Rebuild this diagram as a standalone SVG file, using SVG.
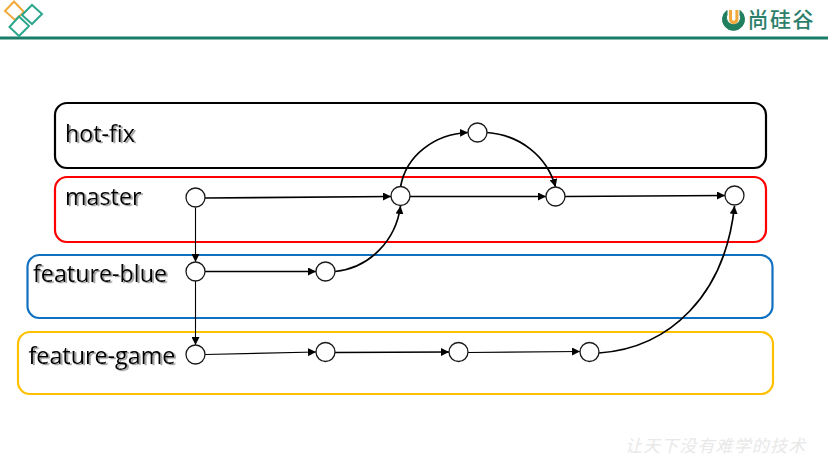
<svg xmlns="http://www.w3.org/2000/svg" width="828" height="456" viewBox="0 0 828 456">
<style>
.box{fill:none;stroke-width:2.2}
.n{fill:#fff;stroke:#1a1a1a;stroke-width:1.3}
.c{fill:none;stroke:#000;stroke-width:1.7}
.thin{stroke-width:1.1}
.t{font-family:"Open Sans","Noto Sans",sans-serif;font-size:23.300px;fill:#000;filter:url(#sh)}
.d{fill:none;stroke-width:2}
</style>
<defs>
<marker id="a" markerUnits="userSpaceOnUse" markerWidth="9" markerHeight="8" refX="8" refY="4" orient="auto"><path d="M0 0L8 4L0 8z" fill="#000"/></marker>
<filter id="sh" x="-5%" y="-10%" width="110%" height="120%"><feDropShadow dx="1.800" dy="1.200" stdDeviation="0.600" flood-color="#777" flood-opacity="0.750"/></filter>
</defs>
<rect width="828" height="456" fill="#fff"/>
<g id="header">
<rect x="0" y="36.500" width="828" height="3" fill="#197d69"/>
<path class="d" stroke="#f0a93a" d="M5 11L14 1.500L24 12L15 20z"/>
<path class="d" stroke="#2ea78f" d="M22 15L32 5L42 14L32 24z"/>
<path class="d" stroke="#2ea78f" d="M9.500 27L19 16.500L29 26L19 36z"/>
<g id="logo">
<path d="M727 10.500a11 11 0 1 0 13 0v4.500a7 7 0 1 1-13 0z" fill="#1f7f5f" stroke="#1f7f5f" stroke-width="1"/>
<path d="M729 10h3v9a1.700 1.700 0 0 0 3.400 0v-9h3v9.500a4.700 4.700 0 0 1-9.400 0z" fill="#f0a93a"/>
<text x="747.500" y="27" font-family="'Noto Sans CJK SC',sans-serif" font-size="21" font-weight="500" fill="#2d7f6c" textLength="66">尚硅谷</text>
</g>
</g>
<text id="watermark" x="625" y="452" font-family="'Noto Sans CJK SC',sans-serif" font-size="17" font-style="italic" fill="#e8e8e8" textLength="180">让天下没有难学的技术</text>
<g id="hot-fix"><rect class="box" x="55" y="103" width="711" height="65" rx="12" stroke="#000"/><text class="t" x="65" y="142">hot-fix</text></g>
<g id="master"><rect class="box" x="55" y="177" width="711" height="65" rx="12" stroke="#f00"/><text class="t" x="65" y="205">master</text></g>
<g id="feature-blue"><rect class="box" x="27.500" y="255" width="745" height="63" rx="12" stroke="#0f70c0"/><text class="t" x="33" y="282">feature-blue</text></g>
<g id="feature-game"><rect class="box" x="18" y="332" width="755" height="62" rx="12" stroke="#ffc000"/><text class="t" x="28.500" y="364">feature-game</text></g>
<g id="connectors">
<path class="c" marker-end="url(#a)" d="M205 198L391 196.500"/>
<path class="c thin" marker-end="url(#a)" d="M195.500 207.500V262"/>
<path class="c" marker-end="url(#a)" d="M205 271.500H316"/>
<path class="c thin" marker-end="url(#a)" d="M195.500 281V345"/>
<path class="c thin" marker-end="url(#a)" d="M205 354.500L316 352"/>
<path class="c" marker-end="url(#a)" d="M335 352.500L449 352"/>
<path class="c thin" marker-end="url(#a)" d="M468 352.500L580 351.500"/>
<path class="c" marker-end="url(#a)" d="M410 196.500L546 196.500"/>
<path class="c" marker-end="url(#a)" d="M565 196.500L725 195.500"/>
<path class="c" marker-end="url(#a)" d="M335 271.500C370 268 396 240 400.500 206"/>
<path class="c" marker-end="url(#a)" d="M400.500 187C406 155 435 134 468 132.500"/>
<path class="c" marker-end="url(#a)" d="M487 132.500C520 135 547 156 555.500 187"/>
<path class="c" marker-end="url(#a)" d="M599 353C670 348 725 295 734.500 206"/>
</g>
<g id="node-m1"><circle class="n" cx="195.500" cy="197.500" r="9.500"/></g>
<g id="node-m2"><circle class="n" cx="400.500" cy="196" r="9.500"/></g>
<g id="node-h1"><circle class="n" cx="477.500" cy="132.500" r="9.500"/></g>
<g id="node-m3"><circle class="n" cx="555.500" cy="196.500" r="9.500"/></g>
<g id="node-m4"><circle class="n" cx="734.500" cy="195.500" r="9.500"/></g>
<g id="node-b1"><circle class="n" cx="195.500" cy="271.500" r="9.500"/></g>
<g id="node-b2"><circle class="n" cx="325.500" cy="271.500" r="9.500"/></g>
<g id="node-g1"><circle class="n" cx="195.500" cy="354.500" r="9.500"/></g>
<g id="node-g2"><circle class="n" cx="325.500" cy="352" r="9.500"/></g>
<g id="node-g3"><circle class="n" cx="458.500" cy="352" r="9.500"/></g>
<g id="node-g4"><circle class="n" cx="589.500" cy="352" r="9.500"/></g>
</svg>
